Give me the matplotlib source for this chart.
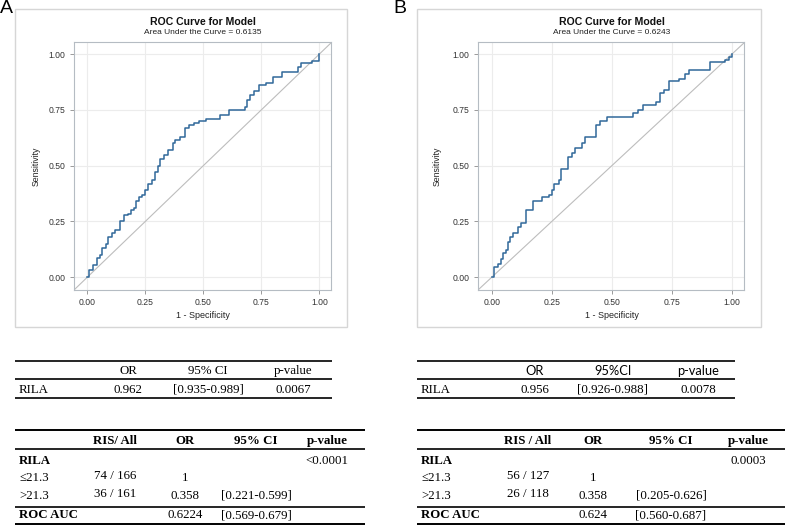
import numpy as np
import matplotlib
matplotlib.use('Agg')
import matplotlib.pyplot as plt
from matplotlib.patches import Rectangle

W, H = 785, 525

# ROC curve corner points (1 - specificity, sensitivity)
fpr_a = [0, .006, .024, .04, .055, .063, .08, .09, .108, .12, .14, .16, .177, .19, .20,
         .21, .225, .235, .25, .26, .28, .29, .305, .315, .33, .35, .37, .38, .40, .42,
         .44, .46, .48, .51, .57, .61, .68, .69, .70, .72, .74, .77, .80, .84, .91, .92,
         .97, 1.0]
tpr_a = [0, .034, .054, .087, .099, .133, .151, .18, .20, .21, .25, .28, .285, .30, .31,
         .34, .36, .37, .39, .42, .435, .47, .50, .53, .55, .57, .60, .615, .63, .67,
         .68, .69, .70, .71, .727, .75, .764, .794, .816, .836, .861, .871, .895, .92, .943, .961,
         .97, 1.0]
fpr_b = [0, .01, .028, .039, .049, .06, .067, .076, .09, .108, .122, .143, .17, .21, .24,
         .25, .26, .28, .29, .317, .333, .347, .375, .39, .433, .45, .48, .586, .61, .63,
         .685, .70, .715, .736, .78, .806, .82, .91, .97, .986, 1.0]
tpr_b = [0, .046, .06, .084, .11, .12, .158, .18, .20, .226, .244, .30, .34, .36, .37,
         .39, .42, .435, .487, .54, .558, .577, .60, .63, .68, .70, .72, .734, .75, .77,
         .786, .824, .84, .879, .89, .91, .93, .966, .973, .988, 1.0]
auc_a = '0.6135'
auc_b = '0.6243'
ticks = [0.0, 0.25, 0.5, 0.75, 1.0]
tick_labels = ['0.00', '0.25', '0.50', '0.75', '1.00']

# tables
small_cols = ['OR', '95% CI', 'p-value']
small_a = ['RILA', '0.962', '[0.935-0.989]', '0.0067']
small_cols_b = ['OR', '95%CI', 'p-value']
small_b = ['RILA', '0.956', '[0.926-0.988]', '0.0078']
big_cols_a = ['RIS/ All', 'OR', '95% CI', 'p-value']
big_cols_b = ['RIS / All', 'OR', '95% CI', 'p-value']
big_a = [['RILA', '', '', '', '<0.0001'],
         ['\u226421.3', '74 / 166', '1', '', ''],
         ['>21.3', '36 / 161', '0.358', '[0.221-0.599]', ''],
         ['ROC AUC', '', '0.6224', '[0.569-0.679]', '']]
big_b = [['RILA', '', '', '', '0.0003'],
         ['\u226421.3', '56 / 127', '1', '', ''],
         ['>21.3', '26 / 118', '0.358', '[0.205-0.626]', ''],
         ['ROC AUC', '', '0.624', '[0.560-0.687]', '']]

fig = plt.figure(figsize=(W / 100, H / 100), dpi=100)
fig.patch.set_facecolor('white')

# overlay axes in pixel coordinates for boxes, titles and tables
ov = fig.add_axes([0, 0, 1, 1])
ov.set_xlim(0, W)
ov.set_ylim(H, 0)
ov.axis('off')

sans = ['Liberation Sans', 'DejaVu Sans']
serif = ['Liberation Serif', 'DejaVu Serif']
curve_col = '#30689a'


def roc_panel(letter, lx, box, ax_px, title_x, fpr, tpr, auc, ylab_x):
    x0, y0, x1, y1 = box
    ov.add_patch(Rectangle((x0, y0), x1 - x0, y1 - y0, fill=False,
                           edgecolor='#d6d6d6', lw=1.0))
    ov.text(lx, 0, letter, fontsize=14, family=sans, va='top', ha='left')
    ov.text(title_x, 22, 'ROC Curve for Model', fontsize=7.6, weight='bold',
            family=sans, ha='center', va='center', color='#111111')
    ov.text(title_x, 33, 'Area Under the Curve = ' + auc, fontsize=6.0,
            family=sans, ha='center', va='center', color='#222222')
    ov.text(title_x, 315, '1 - Specificity', fontsize=6.5, family=sans,
            ha='center', va='center', color='#222222')
    ov.text(ylab_x, 166, 'Sensitivity', fontsize=6.3, family=sans, rotation=90,
            ha='center', va='center', color='#222222')

    l, t, r, b = ax_px
    ax = fig.add_axes([l / W, 1 - b / H, (r - l) / W, (b - t) / H])
    lo_x, hi_x = -0.057, 1.05
    lo_y, hi_y = -0.057, 1.054
    ax.set_xlim(lo_x, hi_x)
    ax.set_ylim(lo_y, hi_y)
    ax.plot([-0.06, 1.06], [-0.06, 1.06], color='#bdbdbd', lw=0.8)
    ax.step(fpr, tpr, where='post', color=curve_col, lw=1.1)
    ax.set_xticks(ticks)
    ax.set_yticks(ticks)
    ax.set_xticklabels(tick_labels)
    ax.set_yticklabels(tick_labels)
    ax.grid(True, color='#ececec', lw=0.8)
    ax.set_axisbelow(True)
    for s in ax.spines.values():
        s.set_color('#b5bcc3')
        s.set_linewidth(0.8)
    ax.tick_params(length=3, width=0.6, color='#8a8a8a', labelsize=6.2,
                   labelcolor='#333333', pad=3)
    for lab in ax.get_xticklabels() + ax.get_yticklabels():
        lab.set_family(sans)


roc_panel('A', 0, (15, 9, 347, 327), (74, 42, 331, 290), 203, fpr_a, tpr_a, auc_a, 36)
roc_panel('B', 393, (417, 9, 761, 327), (478, 42, 744, 290), 612, fpr_b, tpr_b, auc_b, 437)

fs = 9.3


def hline(x0, x1, y, lw=1.2):
    ov.plot([x0, x1], [y, y], color='black', lw=lw, solid_capstyle='butt')


def small_table(x0, x1, label_x, col_x, cols, row, head_family):
    hline(x0, x1, 361)
    hline(x0, x1, 379)
    hline(x0, x1, 398)
    for cx, c in zip(col_x, cols):
        ov.text(cx, 371, c, fontsize=fs, family=head_family, ha='center', va='center')
    ov.text(label_x, 390, row[0], fontsize=fs, family=serif, ha='left', va='center')
    for cx, v in zip(col_x, row[1:]):
        ov.text(cx, 390, v, fontsize=fs, family=serif, ha='center', va='center')


def big_table(x0, x1, label_x, col_x, cols, rows):
    hline(x0, x1, 430, 1.4)
    hline(x0, x1, 449, 1.2)
    hline(x0, x1, 507, 1.2)
    hline(x0, x1, 524, 1.4)
    for cx, c in zip(col_x, cols):
        ov.text(cx, 441, c, fontsize=fs, family=serif, weight='bold',
                ha='center', va='center')
    row_y = [461, 478, 496, 515]
    for ry, row in zip(row_y, rows):
        bold = row[0] in ('RILA', 'ROC AUC')
        ov.text(label_x, ry, row[0], fontsize=fs, family=serif,
                weight='bold' if bold else 'normal', ha='left', va='center')
        for i, (cx, v) in enumerate(zip(col_x, row[1:])):
            yy = ry - 2 if i == 0 else ry
            ov.text(cx, yy, v, fontsize=fs, family=serif, ha='center', va='center')


small_table(15, 332, 19, [128, 208, 293], small_cols, small_a, serif)
small_table(417, 735, 421, [535, 613, 698], small_cols_b, small_b, ['Lato', 'DejaVu Sans'])
big_table(15, 365, 19, [115, 185, 256, 327], big_cols_a, big_a)
big_table(417, 785, 421, [528, 593, 671, 748], big_cols_b, big_b)

fig.savefig('out.png', dpi=100)
